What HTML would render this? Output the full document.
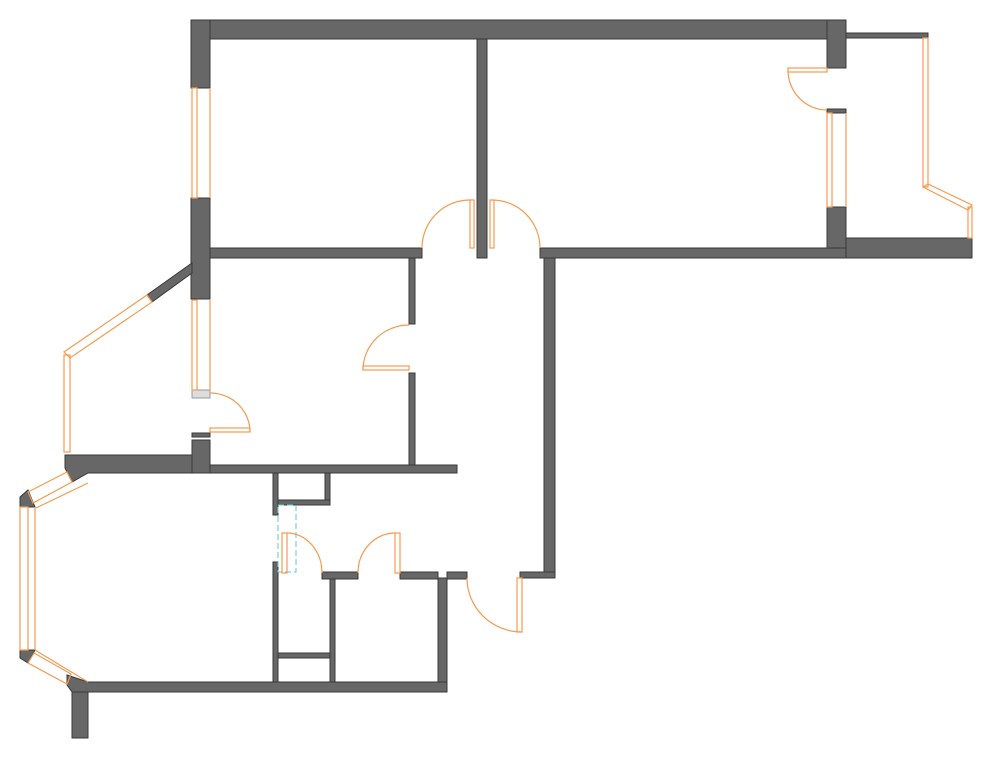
<!DOCTYPE html>
<html><head><meta charset="utf-8"><style>html,body{margin:0;padding:0;background:#fff}svg{display:block}</style></head><body>
<svg width="990" height="758" viewBox="0 0 990 758" xmlns="http://www.w3.org/2000/svg">
<g fill="#676767" stroke="#3a3a3a" stroke-width="1">
<!-- top -->
<rect x="191" y="20" width="655" height="19"/>
<rect x="191" y="20" width="19" height="68"/>
<rect x="191" y="198" width="19" height="101"/>
<rect x="477" y="39" width="10" height="219"/>
<rect x="827" y="20" width="19" height="48"/>
<rect x="827" y="207" width="19" height="51"/>
<rect x="827" y="109" width="19" height="4"/>
<rect x="846" y="33" width="82" height="5"/>
<rect x="846" y="238" width="126" height="20"/>
<rect x="210" y="248" width="212" height="10"/>
<rect x="540" y="248" width="306" height="10"/>
<rect x="544" y="258" width="11" height="320"/>
<rect x="520" y="572" width="35" height="6"/>
<!-- middle -->
<polygon points="192,263 192,273 152,302 147,295"/>
<rect x="409" y="258" width="6" height="66"/>
<rect x="409" y="373" width="6" height="92"/>
<rect x="192" y="440" width="18" height="33"/>
<polygon points="65,455 192,455 192,473 88,473 72,482 65,468"/>
<rect x="210" y="465" width="247" height="8"/>
<rect x="192" y="433" width="18" height="4"/>
<!-- lower -->
<polygon points="20,497 28,490 35,507 20,507"/>
<polygon points="20,650 35,650 28,663 20,658"/>
<polygon points="67,675 88,682 447,682 447,692 72,692 67,685"/>
<rect x="72" y="692" width="16" height="46"/>
<rect x="438" y="578" width="9" height="104"/>
<rect x="400" y="572" width="38" height="7"/>
<rect x="447" y="572" width="20" height="7"/>
<rect x="322" y="572" width="36" height="7"/>
<rect x="330" y="579" width="5" height="103"/>
<rect x="273" y="473" width="5" height="42"/>
<rect x="273" y="562" width="5" height="120"/>
<rect x="325" y="473" width="5" height="32"/>
<rect x="278" y="500" width="52" height="5"/>
<rect x="278" y="653" width="52" height="5"/>
</g>
<rect x="192" y="390" width="18" height="8" fill="#ddd" stroke="#999"/>
<rect x="278" y="505" width="18" height="67" fill="none" stroke="#5cc8c8" stroke-dasharray="6,3"/>
<g fill="none" stroke="#f79a4f" stroke-width="1.2">
<!-- windows -->
<rect x="192" y="88" width="5" height="110"/><line x1="210" y1="88" x2="210" y2="198"/>
<rect x="192" y="300" width="5" height="90"/><line x1="210" y1="300" x2="210" y2="390"/>
<rect x="827" y="113" width="5" height="94"/><line x1="846" y1="113" x2="846" y2="207"/>
<rect x="923" y="38" width="5" height="149"/>
<polygon points="923,187 928,184 972,205 968,210"/>
<rect x="968" y="207" width="4" height="31"/>
<polygon points="147,295 152,302 70,358 64,352"/>
<rect x="64" y="355" width="6" height="97"/>
<polygon points="67,472 72,482 33,503 28,492"/>
<line x1="88" y1="483" x2="36" y2="508"/>
<rect x="20" y="507" width="8" height="143"/><line x1="35" y1="507" x2="35" y2="650"/>
<polygon points="28,663 34,653 71,674 67,684"/>
<line x1="35" y1="650" x2="88" y2="682"/>
<!-- doors -->
<path d="M470,200 A48,48 0 0 0 422,248"/><rect x="470" y="200" width="4" height="48"/>
<path d="M492,200 A48,48 0 0 1 540,248"/><rect x="490" y="200" width="4" height="48"/>
<path d="M788,70 A39,40 0 0 0 827,110"/><rect x="788" y="68" width="39" height="4"/>
<path d="M409,325 A46,45 0 0 0 363,370"/><rect x="363" y="366" width="46" height="4"/>
<path d="M210,393 A40,39 0 0 1 250,432"/><rect x="210" y="428" width="40" height="4"/>
<path d="M287,533 A35,40 0 0 1 322,573"/><rect x="282" y="533" width="5" height="40"/>
<path d="M395,533 A37,40 0 0 0 358,573"/><rect x="395" y="533" width="5" height="40"/>
<path d="M467,578 A55,54 0 0 0 522,632"/><rect x="517" y="578" width="5" height="54"/>
</g>
</svg>
</body></html>
